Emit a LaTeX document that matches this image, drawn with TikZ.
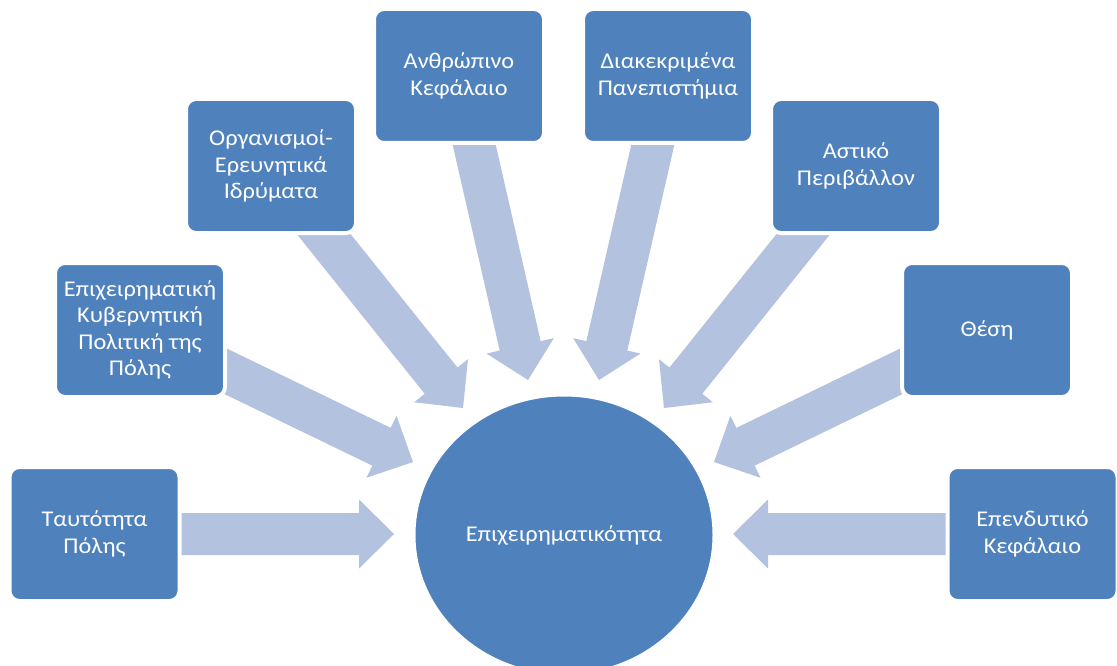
\documentclass[tikz,border=0pt]{standalone}
\usepackage{fontspec}
\setmainfont{Carlito}[FakeStretch=1.08]
\usetikzlibrary{calc,shapes.geometric,backgrounds}
\definecolor{boxblue}{HTML}{4F81BD}
\definecolor{arrowblue}{HTML}{B3C2DE}
\tikzset{
  box/.style={rectangle, rounded corners=10pt, fill=boxblue, draw=white, line width=4pt,
    minimum width=170pt, minimum height=134pt, text=white, align=center,
    font=\fontsize{22.5}{26.5}\selectfont, inner sep=0pt},
  hub/.style={ellipse, fill=boxblue, draw=white, line width=3pt,
    minimum width=300pt, minimum height=280pt, text=white, inner sep=0pt,
    font=\fontsize{22.5}{26.5}\selectfont},
  flow/.style={fill=arrowblue}
}
\newcommand\blockarrow[2]{%
  \path coordinate (hb) at ($(#2)!35pt!(#1)$);
  \fill[flow] ($(#1)!21pt!90:(#2)$) -- ($(hb)!21pt!90:(#2)$) -- ($(hb)!34.5pt!90:(#2)$)
    -- (#2) -- ($(hb)!34.5pt!-90:(#2)$) -- ($(hb)!21pt!-90:(#2)$)
    -- ($(#1)!21pt!-90:(#2)$) -- cycle;
}
\begin{document}
\begin{tikzpicture}[x=1pt,y=-1pt]
\useasboundingbox (0,0) rectangle (1117,666);
\clip (0,0) rectangle (1117,666);
% nodes
\node[hub] (hub) at (564,535) {Επιχειρηματικότητα};
\node[box] (b1) at (94.5,534) {Ταυτότητα\\Πόλης};
\node[box] (b2) at (140,330) {Επιχειρηματική\\Κυβερνητική\\Πολιτική της\\Πόλης};
\node[box] (b3) at (271,166) {Οργανισμοί-\\Ερευνητικά\\Ιδρύματα};
\node[box] (b4) at (459,76) {Ανθρώπινο\\Κεφάλαιο};
\node[box] (b5) at (668,76) {Διακεκριμένα\\Πανεπιστήμια};
\node[box] (b6) at (856,166) {Αστικό\\Περιβάλλον};
\node[box] (b7) at (987,330) {Θέση};
\node[box] (b8) at (1032.5,534) {Επενδυτικό\\Κεφάλαιο};
% arrow end points
\coordinate (s1) at (140,534);  \coordinate (t1) at (394,534);
\coordinate (s2) at (192,355);  \coordinate (t2) at (413,462);
\coordinate (s3) at (302,207);  \coordinate (t3) at (463,408);
\coordinate (s4) at (466,109);  \coordinate (t4) at (528,380);
\coordinate (s5) at (661,109);  \coordinate (t5) at (599,380);
\coordinate (s6) at (825,207);  \coordinate (t6) at (664,408);
\coordinate (s7) at (935,355);  \coordinate (t7) at (714,462);
\coordinate (s8) at (987,534);  \coordinate (t8) at (733,534);
\begin{scope}[on background layer]
  \blockarrow{s1}{t1}
  \blockarrow{s2}{t2}
  \blockarrow{s3}{t3}
  \blockarrow{s4}{t4}
  \blockarrow{s5}{t5}
  \blockarrow{s6}{t6}
  \blockarrow{s7}{t7}
  \blockarrow{s8}{t8}
\end{scope}
\end{tikzpicture}
\end{document}
